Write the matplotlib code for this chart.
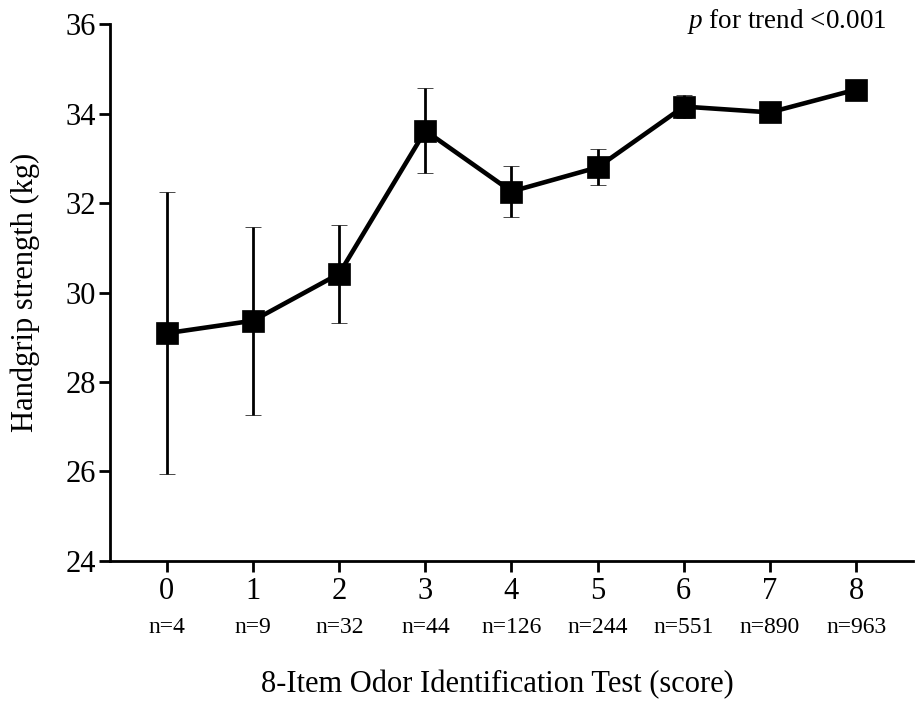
import matplotlib
matplotlib.use("Agg")
import matplotlib.pyplot as plt
from matplotlib.transforms import blended_transform_factory

plt.rcParams['font.family'] = ['Liberation Serif', 'DejaVu Serif']
plt.rcParams['mathtext.fontset'] = 'custom'
plt.rcParams['mathtext.rm'] = 'Liberation Serif'
plt.rcParams['mathtext.it'] = 'Liberation Serif:italic'

scores = [0, 1, 2, 3, 4, 5, 6, 7, 8]
grip = [29.09, 29.37, 30.42, 33.62, 32.26, 32.80, 34.16, 34.03, 34.54]
err = [3.15, 2.10, 1.10, 0.95, 0.57, 0.40, 0.26, 0.15, 0.15]
counts = ["n=4", "n=9", "n=32", "n=44", "n=126", "n=244", "n=551", "n=890", "n=963"]

fig = plt.figure(figsize=(9.16, 7.01), dpi=100)
ax = fig.add_axes([0.1201, 0.2001, 0.8766, 0.7652])

ax.errorbar(scores, grip, yerr=err, fmt='s-', color='black', ecolor='black',
            lw=3.3, ms=16.5, mew=0.5, elinewidth=2, capsize=6, capthick=2)

ax.set_xlim(-0.66, 8.66)
ax.set_ylim(24, 36)
ax.set_xticks(scores)
ax.set_yticks([24, 26, 28, 30, 32, 34, 36])
ax.tick_params(axis='both', labelsize=22, width=2, length=8, color='black')
ax.tick_params(axis='y', pad=2)
ax.tick_params(axis='x', pad=4)

for side in ['top', 'right']:
    ax.spines[side].set_visible(False)
for side in ['left', 'bottom']:
    ax.spines[side].set_linewidth(2)

# sample sizes under each tick
trans = blended_transform_factory(ax.transData, ax.transAxes)
for x, n in zip(scores, counts):
    ax.text(x, -0.124, n, transform=trans, ha='center', va='center', fontsize=17)

fig.text(497 / 916, 16 / 701, "8-Item Odor Identification Test (score)",
         ha='center', va='center', fontsize=22)
fig.text(25 / 916, 0.5 * (676.7 + 140.3) / 701, "Handgrip strength (kg)",
         ha='center', va='center', rotation=90, fontsize=22)

fig.text(887 / 916, 1 - 22 / 701, r"$\it{p}$ for trend <0.001",
         ha='right', va='center', fontsize=19.5)

fig.savefig("out.png", dpi=100)
